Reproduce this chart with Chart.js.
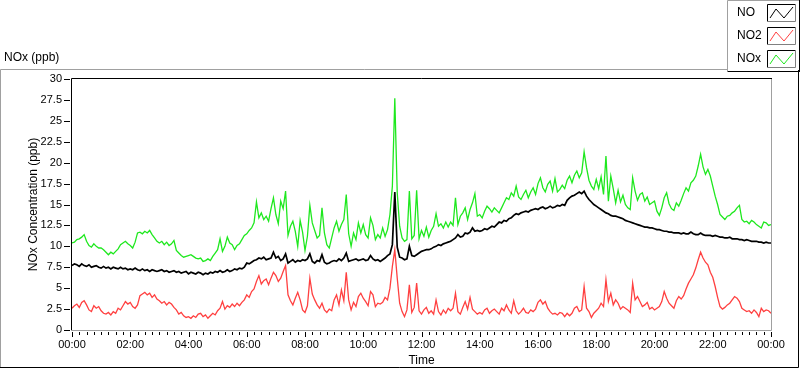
<!DOCTYPE html>
<html>
<head>
<meta charset="utf-8">
<script src="https://cdn.jsdelivr.net/npm/chart.js@4.4.1/dist/chart.umd.min.js"></script>
<style>
  html, body { margin: 0; padding: 0; background: #fff; }
  #wrap { position: relative; width: 800px; height: 369px; }
  canvas { display: block; }
</style>
</head>
<body>
<div id="wrap"><canvas id="c" width="800" height="369"></canvas></div>
<script>
// ---- data (one value every 5 minutes, 00:00 .. 24:00) ----
const seriesNames = ['NO', 'NO2', 'NOx'];
const stepMinutes = 5;
const xTickLabels = ['00:00','02:00','04:00','06:00','08:00','10:00','12:00','14:00','16:00','18:00','20:00','22:00','00:00'];
const yTickValues = [0, 2.5, 5, 7.5, 10, 12.5, 15, 17.5, 20, 22.5, 25, 27.5, 30];

const NO = [
  7.7, 7.9, 7.8, 7.6, 7.9, 7.7, 7.6, 7.8, 7.5, 7.6, 7.7, 7.5,
  7.4, 7.6, 7.4, 7.5, 7.3, 7.5, 7.4, 7.3, 7.5, 7.3, 7.4, 7.2,
  7.3, 7.2, 7.4, 7.2, 7.1, 7.3, 7.1, 7.2, 7.0, 7.2, 7.1, 7.0,
  7.1, 7.2, 7.0, 7.1, 6.9, 7.0, 7.1, 6.9, 7.0, 6.8, 6.9, 7.0,
  6.7, 6.9, 6.8, 6.7, 6.9, 6.8, 6.6, 6.8, 6.7, 6.9, 6.8, 7.0,
  6.9, 7.1, 6.9, 7.0, 7.2, 7.0, 7.1, 7.3, 7.2, 7.4, 7.3, 7.5,
  8.0, 7.9, 8.1, 8.3, 8.4, 8.6, 8.5, 8.7, 8.4, 8.5, 8.6, 9.3,
  8.6, 8.8, 8.3, 8.5, 9.1, 8.0, 8.2, 8.4, 8.1, 8.3, 8.2, 8.4,
  8.3, 8.5, 9.1, 8.2, 8.0, 8.3, 8.2, 9.0, 8.1, 7.9, 8.0, 8.2,
  8.3, 8.2, 8.5, 8.3, 8.6, 9.2, 8.2, 8.3, 8.4, 8.5, 8.3, 8.4,
  8.5, 8.3, 8.4, 8.9, 8.5, 8.3, 8.4, 8.2, 8.4, 8.6, 8.9, 9.1,
  10.2, 16.5, 9.9, 8.7, 8.6, 8.4, 8.5, 10.0, 8.9, 8.8, 9.0, 9.2,
  9.4, 9.5, 9.6, 9.6, 9.7, 9.9, 10.0, 10.2, 10.1, 10.3, 10.4, 10.5,
  10.6, 10.8, 11.0, 11.4, 11.1, 11.2, 11.6, 11.5, 11.7, 12.2, 11.8, 11.9,
  11.8, 11.9, 12.1, 12.0, 12.2, 12.4, 12.3, 12.6, 12.9, 12.8, 13.1, 13.0,
  13.3, 13.4, 13.7, 13.9, 13.8, 14.0, 14.1, 14.2, 14.1, 14.3, 14.4, 14.5,
  14.4, 14.6, 14.7, 14.5, 14.6, 14.8, 14.6, 14.7, 14.9, 14.8, 15.0, 14.9,
  15.5, 15.8, 16.0, 16.1, 16.3, 16.5, 16.3, 16.6, 16.0, 15.6, 15.3, 15.0,
  14.8, 14.6, 14.4, 14.2, 14.0, 13.9, 13.7, 13.6, 13.6, 13.5, 13.4, 13.3,
  13.1, 13.0, 12.9, 12.8, 12.7, 12.6, 12.5, 12.4, 12.3, 12.3, 12.2, 12.2,
  12.1, 12.0, 12.0, 11.9, 11.8, 11.8, 11.7, 11.7, 11.6, 11.6, 11.6, 11.5,
  11.6, 11.5, 11.5, 11.7, 11.5, 11.4, 11.4, 11.6, 11.4, 11.3, 11.3, 11.3,
  11.2, 11.3, 11.2, 11.1, 11.1, 11.0, 11.0, 11.1, 10.9, 10.9, 10.9, 10.8,
  10.8, 10.7, 10.8, 10.7, 10.6, 10.6, 10.6, 10.5, 10.5, 10.4, 10.5, 10.4,
  10.4
];

const NO2 = [
  2.6, 2.9, 3.1, 2.7, 3.3, 3.5, 3.0, 2.4, 2.2, 2.9, 2.6, 2.8,
  2.3, 2.0, 1.9, 2.1, 1.8, 2.2, 2.0, 2.6, 2.4, 2.9, 3.4, 3.1,
  3.3, 2.8, 2.6, 3.0, 4.1, 4.3, 4.5, 4.2, 4.4, 3.9, 4.2, 3.7,
  3.5, 3.2, 3.4, 3.0, 3.3, 3.1, 2.7, 2.4, 1.9, 2.1, 1.7, 1.5,
  1.6, 1.4, 1.7, 1.5, 1.9, 2.0, 1.6, 1.8, 1.4, 1.7, 2.0, 1.8,
  2.3, 2.6, 3.4, 2.5, 2.9, 2.7, 3.1, 2.8, 3.2, 2.9, 3.3, 3.6,
  4.2, 3.9, 4.6, 4.9, 5.8, 6.5, 5.5, 5.9, 6.1, 5.4, 6.2, 6.9,
  6.5, 5.8, 6.2, 7.0, 7.7, 4.2, 3.5, 3.0, 3.8, 4.5, 3.6, 2.4,
  2.1, 2.9, 6.2, 4.3, 3.6, 3.0, 2.6, 3.2, 2.4, 2.1, 2.5, 2.3,
  3.6, 4.2, 3.0, 4.8, 3.5, 6.9, 3.6, 2.4, 3.3, 2.8, 4.0, 4.4,
  3.8, 3.4, 2.9, 4.6, 4.2, 2.8, 3.2, 3.1, 3.3, 3.9, 3.6, 5.0,
  7.6, 9.6, 6.2, 3.2, 2.2, 1.6, 2.4, 5.4, 2.1, 2.7, 5.6, 2.3,
  1.9, 2.4, 2.7, 2.0, 2.3, 1.9, 3.6, 2.2, 1.8, 2.4, 2.0, 2.6,
  2.3, 2.6, 4.4, 2.2, 1.9, 2.7, 3.4, 2.5, 3.9, 2.5, 2.2, 1.9,
  2.1, 1.9, 2.4, 2.6, 2.0, 2.3, 2.5, 2.2, 1.9, 2.6, 2.3, 3.0,
  2.4, 2.0, 3.5, 2.3, 1.9, 2.2, 2.6, 2.1, 2.0, 2.4, 2.2, 2.5,
  3.3, 3.6, 3.1, 3.4, 2.6, 2.2, 1.9, 2.0, 1.8, 2.1, 2.0, 1.6,
  2.0, 1.7, 2.0, 2.6, 2.8, 2.2, 2.4, 5.2, 2.6, 2.2, 1.5, 2.0,
  2.3, 2.6, 3.2, 2.8, 6.0, 3.4, 4.4, 3.0, 3.6, 3.2, 2.5, 2.8,
  2.6, 2.4, 2.1, 5.6, 3.6, 4.0, 3.4, 2.8, 3.0, 3.3, 2.5, 2.7,
  2.4, 2.6, 2.8, 3.4, 4.6, 3.8, 3.2, 2.9, 2.6, 3.5, 4.0, 3.7,
  4.1, 4.9, 5.6, 6.1, 6.6, 7.4, 8.4, 9.3, 8.6, 8.1, 7.8, 6.9,
  6.3, 5.2, 3.9, 2.8, 2.5, 2.7, 3.0, 3.2, 3.6, 4.0, 3.8, 3.4,
  2.6, 2.4, 2.2, 2.3, 2.0, 2.4, 2.1, 1.6, 2.6, 2.2, 2.4, 2.3,
  2.0
];

const NOx = [
  10.4, 10.5, 10.8, 10.9, 11.1, 11.4, 10.6, 10.1, 9.9, 10.3, 10.0, 9.8,
  9.8, 9.6, 9.3, 9.0, 9.3, 9.1, 9.4, 9.7, 10.2, 10.4, 10.6, 10.3,
  10.1, 9.8, 10.5, 11.6, 11.7, 11.5, 11.8, 11.6, 11.9, 11.4, 11.0, 10.6,
  10.4, 10.6, 10.2, 10.5, 10.1, 10.3, 10.7, 9.5, 9.2, 8.9, 8.7, 8.8,
  8.9, 9.0, 8.8, 8.6, 8.5, 8.6, 8.2, 8.3, 8.5, 8.3, 8.8, 9.2,
  9.6, 10.9, 9.4, 10.0, 11.1, 10.4, 10.2, 9.6, 10.1, 10.3, 10.8, 11.3,
  11.5, 11.9, 12.2, 12.8, 15.3, 13.4, 14.0, 13.2, 13.6, 13.0, 14.5, 15.8,
  13.8, 12.7, 15.4, 14.5, 16.6, 11.3, 12.4, 13.0, 11.8, 10.0, 13.1, 11.7,
  9.5, 11.2, 14.9, 12.8, 11.9, 11.0, 11.3, 14.6, 11.6, 10.2, 9.8, 11.0,
  12.2, 13.0, 11.8, 12.6, 13.2, 16.2, 11.5, 10.0, 11.6, 10.8, 12.8, 11.6,
  12.6, 11.4, 11.0, 13.4, 12.5, 10.8, 11.4, 11.0, 12.2, 11.2, 12.0, 13.8,
  17.2, 27.7, 16.4, 12.4, 11.0, 10.6, 10.8, 16.6, 10.9, 11.3, 16.7, 10.9,
  11.9, 11.2, 12.3, 11.1, 11.9, 12.4, 13.9, 12.4, 12.7, 12.2, 12.9, 12.3,
  12.9, 12.5, 15.8, 12.6, 13.6, 14.0, 14.6, 13.2, 14.4, 15.2, 16.3, 13.6,
  13.8, 13.4, 14.2, 14.8, 14.5, 14.1, 14.6, 14.3, 14.0, 14.6, 15.2, 15.8,
  15.6, 16.4, 16.0, 17.2, 15.9, 15.6, 16.2, 16.7, 15.8, 16.5, 17.0, 16.2,
  17.5, 18.2, 17.0, 16.5, 17.4, 17.8, 16.6, 18.1, 16.5, 16.8, 17.3, 16.9,
  17.9, 18.4, 17.6, 18.5, 19.0, 18.2, 18.8, 21.3, 19.4, 17.9, 17.2, 16.8,
  18.0, 16.9, 18.3, 16.2, 20.8, 15.4, 18.4, 16.9, 15.2, 16.7, 15.3, 16.1,
  15.0, 14.6, 14.4, 18.2, 16.6, 15.5, 16.2, 16.4, 15.4, 15.9, 15.0, 15.2,
  15.4, 14.2, 13.7, 14.6, 15.8, 16.4, 15.1, 14.5, 14.3, 15.2, 14.8, 15.5,
  16.3, 17.0, 16.6, 17.6, 17.9, 18.4, 19.6, 21.0, 19.5, 18.6, 19.2, 18.4,
  17.2, 16.0, 15.0, 13.8, 13.5, 13.2, 13.6, 13.7, 14.0, 14.2, 14.6, 14.9,
  13.2, 12.9, 13.0, 12.7, 13.1, 12.9, 12.6, 12.4, 12.2, 12.9, 12.8, 12.5,
  12.6
];

const seriesColors = ['#000000', '#ff4040', '#1ee81e'];
const seriesWidths = [1.7, 1.3, 1.3];

// ---- build datasets ----
function toPoints(arr) { return arr.map((v, i) => ({ x: i * stepMinutes, y: v })); }
const seriesValues = [NO, NO2, NOx];

const FONT = '"Liberation Sans", Arial, sans-serif';

const decorPlugin = {
  id: 'decor',
  beforeDraw(chart) {
    const ctx = chart.ctx;
    ctx.save();
    ctx.fillStyle = '#ffffff';
    ctx.fillRect(0, 0, chart.width, chart.height);
    ctx.restore();
  },
  afterDraw(chart) {
    const ctx = chart.ctx;
    const a = chart.chartArea;
    const xs = chart.scales.x, ys = chart.scales.y;
    ctx.save();
    ctx.lineWidth = 1;
    // plot area border (sunken look)
    ctx.strokeStyle = '#000';
    ctx.beginPath();
    ctx.moveTo(a.left - 0.5, a.bottom + 1); ctx.lineTo(a.left - 0.5, a.top - 0.5); ctx.lineTo(a.right + 1, a.top - 0.5);
    ctx.stroke();
    ctx.strokeStyle = '#a0a0a0';
    ctx.beginPath();
    ctx.moveTo(a.right + 0.5, a.top); ctx.lineTo(a.right + 0.5, a.bottom + 0.5); ctx.lineTo(a.left - 1, a.bottom + 0.5);
    ctx.stroke();

    // y ticks
    ctx.strokeStyle = '#000';
    ctx.beginPath();
    yTickValues.forEach(v => {
      const py = Math.round(ys.getPixelForValue(v)) + 0.5;
      ctx.moveTo(a.left - 8, py); ctx.lineTo(a.left - 2, py);
    });
    ctx.stroke();
    // x ticks (major every 2 h, minor every 15 min)
    ctx.beginPath();
    for (let m = 0; m <= 1440; m += 15) {
      const px = Math.round(xs.getPixelForValue(m)) + 0.5;
      const major = m % 120 === 0;
      ctx.moveTo(px, a.bottom + 2); ctx.lineTo(px, a.bottom + (major ? 7 : 5));
    }
    ctx.stroke();

    // outer frame
    ctx.strokeStyle = '#a0a0a0';
    ctx.beginPath();
    ctx.moveTo(0.5, 368); ctx.lineTo(0.5, 69.5); ctx.lineTo(728, 69.5);
    ctx.stroke();
    ctx.strokeStyle = '#000';
    ctx.beginPath();
    ctx.moveTo(0, 367.5); ctx.lineTo(798.5, 367.5); ctx.lineTo(798.5, 70);
    ctx.stroke();

    // legend box
    ctx.strokeStyle = '#a0a0a0';
    ctx.beginPath();
    ctx.moveTo(727.5, 71); ctx.lineTo(727.5, 0.5); ctx.lineTo(799, 0.5);
    ctx.stroke();
    ctx.strokeStyle = '#000';
    ctx.beginPath();
    ctx.moveTo(727.5, 71.5); ctx.lineTo(799.5, 71.5);
    ctx.moveTo(799.5, 0); ctx.lineTo(799.5, 72);
    ctx.stroke();

    const ds = chart.data.datasets;
    ctx.font = '12px ' + FONT;
    ctx.textBaseline = 'middle';
    ctx.textAlign = 'left';
    ds.forEach((d, i) => {
      const cy = 13 + i * 23;
      ctx.fillStyle = '#000';
      ctx.fillText(d.label, 737, cy);
      const bx = 767, by = cy - 9, bw = 29, bh = 18;
      ctx.fillStyle = '#fff';
      ctx.fillRect(bx, by, bw, bh);
      ctx.lineWidth = 1;
      ctx.strokeStyle = '#000';
      ctx.beginPath();
      ctx.moveTo(bx + 0.5, by + bh); ctx.lineTo(bx + 0.5, by + 0.5); ctx.lineTo(bx + bw, by + 0.5);
      ctx.stroke();
      ctx.strokeStyle = '#808080';
      ctx.beginPath();
      ctx.moveTo(bx + bw - 0.5, by); ctx.lineTo(bx + bw - 0.5, by + bh - 0.5); ctx.lineTo(bx, by + bh - 0.5);
      ctx.stroke();
      ctx.strokeStyle = d.borderColor;
      ctx.beginPath();
      ctx.moveTo(bx + 3, by + 14); ctx.lineTo(bx + 9, by + 5); ctx.lineTo(bx + 17, by + 14); ctx.lineTo(bx + 26, by + 3);
      ctx.stroke();
    });

    // chart title
    ctx.fillStyle = '#000';
    ctx.font = '12px ' + FONT;
    ctx.textAlign = 'left';
    ctx.fillText('NOx (ppb)', 4, 58);
    ctx.restore();
  }
};

new Chart(document.getElementById('c'), {
  type: 'line',
  data: {
    datasets: seriesNames.map((name, i) => ({
      label: name,
      data: toPoints(seriesValues[i]),
      borderColor: seriesColors[i],
      backgroundColor: seriesColors[i],
      borderWidth: seriesWidths[i],
      borderJoinStyle: 'miter',
      pointRadius: 0,
      tension: 0,
      fill: false
    }))
  },
  options: {
    responsive: false,
    animation: false,
    events: [],
    layout: { padding: { top: 79, right: 29, bottom: 0, left: 0 } },
    plugins: { legend: { display: false }, title: { display: false }, tooltip: { enabled: false } },
    scales: {
      x: {
        type: 'linear', min: 0, max: 1440,
        afterFit: s => { s.height = 39; },
        grid: { display: false, drawTicks: false },
        border: { display: false },
        ticks: {
          stepSize: 120, autoSkip: false, maxRotation: 0, padding: 8,
          color: '#000', font: { family: FONT, size: 11 },
          callback: (v, i) => xTickLabels[i]
        },
        title: { display: true, text: 'Time', color: '#000', font: { family: FONT, size: 12 }, padding: { top: 0, bottom: 1 } }
      },
      y: {
        type: 'linear', min: 0, max: 30,
        afterFit: s => { s.width = 72; },
        grid: { display: false, drawTicks: false },
        border: { display: false },
        ticks: {
          stepSize: 2.5, padding: 10, color: '#000', font: { family: FONT, size: 11 },
          callback: v => String(v)
        },
        title: { display: true, text: 'NOx Concentration (ppb)', color: '#000', font: { family: FONT, size: 12 }, padding: { top: 26, bottom: 0 } }
      }
    }
  },
  plugins: [decorPlugin]
});
</script>
</body>
</html>
